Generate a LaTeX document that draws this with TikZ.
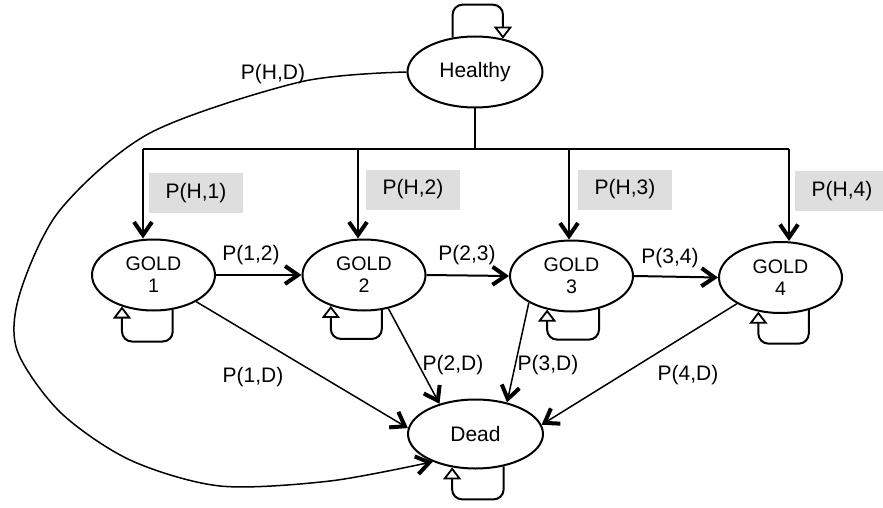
\documentclass[tikz,border=0pt]{standalone}
\usepackage{fontspec}
\setmainfont{Liberation Sans}
\usetikzlibrary{arrows.meta,calc,shapes.geometric}

\begin{document}
\begin{tikzpicture}[
        x=0.5pt, y=-0.5pt,
        state/.style={ellipse, draw, line width=1pt, fill=white, inner sep=0pt, minimum width=61.5pt, minimum height=35.5pt, align=center, font=\fontsize{9.8}{11}\selectfont},
        bigstate/.style={state, minimum width=67.5pt, font=\fontsize{10.5}{12}\selectfont},
        prob/.style={font=\fontsize{10.5}{12}\selectfont},
        probbox/.style={prob, fill=black!13, minimum width=47pt, minimum height=20pt},
        arrow/.style={-{Straight Barb[length=6.5pt,width=9pt,line width=2pt]}, line width=1pt},
        toDead/.style={arrow, line width=0.75pt},
        selfloop/.style={-{Triangle[open,length=6pt,width=9pt,line width=0.9pt]}, line width=1pt, rounded corners=5pt}
    ]
        \useasboundingbox (0,0) rectangle (883,508);

        \node[probbox] (ph1) at (196,193) {P(H,1)};
        \node[probbox] (ph2) at (413,189.5) {P(H,2)};
        \node[probbox] (ph3) at (625,189.5) {P(H,3)};
        \node[probbox] (ph4) at (842,191) {P(H,4)};

        \node[bigstate] (healthy) at (475,72) {Healthy};
        \node[state] (g1) at (153.5,275) {GOLD\\1};
        \node[state] (g2) at (364,275) {GOLD\\2};
        \node[state] (g3) at (571.5,276) {GOLD\\3};
        \node[state] (g4) at (780.5,277.5) {GOLD\\4};
        \node[bigstate, minimum height=34.5pt] (dead) at (475.5,434) {Dead};

        \coordinate (b1) at (143,149);
        \coordinate (b2) at (358,149);
        \coordinate (b3) at (569,149);
        \coordinate (b4) at (789,149);
        \draw[line width=1pt] (healthy.south) -- (healthy.south |- b1);
        \draw[line width=1pt] (b1) -- (b4);
        \draw[arrow] (b1) -- (b1 |- g1.north);
        \draw[arrow] (b2) -- (b2 |- g2.north);
        \draw[arrow] (b3) -- (b3 |- g3.north);
        \draw[arrow] (b4) -- (b4 |- g4.north);

        \draw[arrow] (g1.east) -- (g2.west);
        \draw[arrow] (g2.east) -- (g3.west);
        \draw[arrow] (g3.east) -- (g4.west);
        \node[prob] (p12) at (251,255) {P(1,2)};
        \node[prob] (p23) at (467,255) {P(2,3)};
        \node[prob] (p34) at (670,258) {P(3,4)};

        \draw[toDead] (g1.-32) -- (dead.175);
        \draw[toDead] (g2.-54) -- (dead.140);
        \draw[toDead] (g3.-148) -- (dead.45);
        \draw[toDead] (g4.-149) -- (dead.8);
        \node[prob] (p1d) at (253,377) {P(1,D)};
        \node[prob] (p2d) at (453,365) {P(2,D)};
        \node[prob] (p3d) at (548,365) {P(3,D)};
        \node[prob] (p4d) at (688,375) {P(4,D)};

        \draw[toDead] plot[smooth] coordinates {(healthy.west) (300,82) (150,133) (60,210) (20,293) (17,350) (60,412) (130,460) (220,486) (330,481) (dead.-147)};
        \node[prob] (phd) at (273,74) {P(H,D)};

        \draw[selfloop] (healthy.123) |- ($(healthy.50)+(0,-34)$) -- (healthy.50);
        \draw[selfloop] (g1.-61) |- ($(g1.-135)+(0,35)$) -- (g1.-135);
        \draw[selfloop] (g2.-63) |- ($(g2.-137)+(0,33)$) -- (g2.-137);
        \draw[selfloop] (g3.-50) |- ($(g3.-126)+(0,30)$) -- (g3.-126);
        \draw[selfloop] (g4.-49) |- ($(g4.-123)+(0,32)$) -- (g4.-123);
        \draw[selfloop] (dead.-49) |- ($(dead.-125)+(0,32)$) -- (dead.-125);
    \end{tikzpicture}
\end{document}
